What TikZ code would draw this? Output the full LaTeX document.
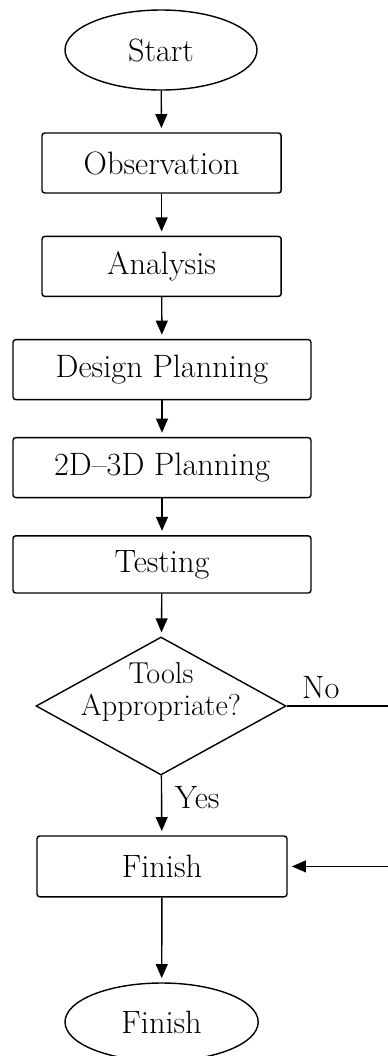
\documentclass[tikz,border=0pt]{standalone}
\usetikzlibrary{shapes.geometric,arrows.meta}
\begin{document}
\begin{tikzpicture}[
  font=\fontsize{23}{28}\selectfont,
  box/.style={draw, line width=1pt, rounded corners=2pt, minimum height=1.5cm},
  term/.style={draw, ellipse, line width=1pt, minimum width=4.8cm, minimum height=2cm},
  arr/.style={line width=1pt, -{Triangle[length=10pt,width=8.5pt]}, shorten >=3pt}
]
\useasboundingbox (0,0) rectangle (9.7,-26.4);

\node [term] (start) at (4.025,-1.25) {Start};
\node [box, minimum width=5.98cm] (obs) at (4.04,-4.075) {Observation};
\node [box, minimum width=5.98cm] (ana) at (4.04,-6.66) {Analysis};
\node [box, minimum width=7.45cm] (des) at (4.05,-9.24) {Design Planning};
\node [box, minimum width=7.45cm] (tdp) at (4.05,-11.69) {2D--3D Planning};
\node [box, minimum width=7.45cm, minimum height=1.43cm] (tst) at (4.05,-14.11) {Testing};
\node [draw, diamond, line width=1pt, inner sep=0pt, minimum width=6.25cm, minimum height=3.45cm]
  (dia) at (4.025,-17.65) {};
\node [align=center, inner sep=0pt, font=\fontsize{21.5}{26}\selectfont] (diatext) at (4.025,-17.3)
  {Tools\\[-3pt]Appropriate?};
\node [box, minimum width=6.25cm, minimum height=1.52cm] (fin) at (4.05,-21.66) {Finish};
\node [term, minimum width=4.83cm, minimum height=1.95cm] (stop) at (4.04,-25.55) {Finish};

\node (no) at (8.02,-17.2) {No};
\node (yes) at (4.93,-19.95) {Yes};
\coordinate (noturn) at (9.8,-17.65);

\draw [arr] (start) -- (obs);
\draw [arr] (obs) -- (ana);
\draw [arr] (ana) -- (des);
\draw [arr] (des) -- (tdp);
\draw [arr] (tdp) -- (tst);
\draw [arr] (tst) -- (dia);
\draw [arr] (dia) -- (fin);
\draw [arr] (fin) -- (stop);
\draw [arr] (dia.east) -- (noturn) |- (fin.east);
\end{tikzpicture}
\end{document}
